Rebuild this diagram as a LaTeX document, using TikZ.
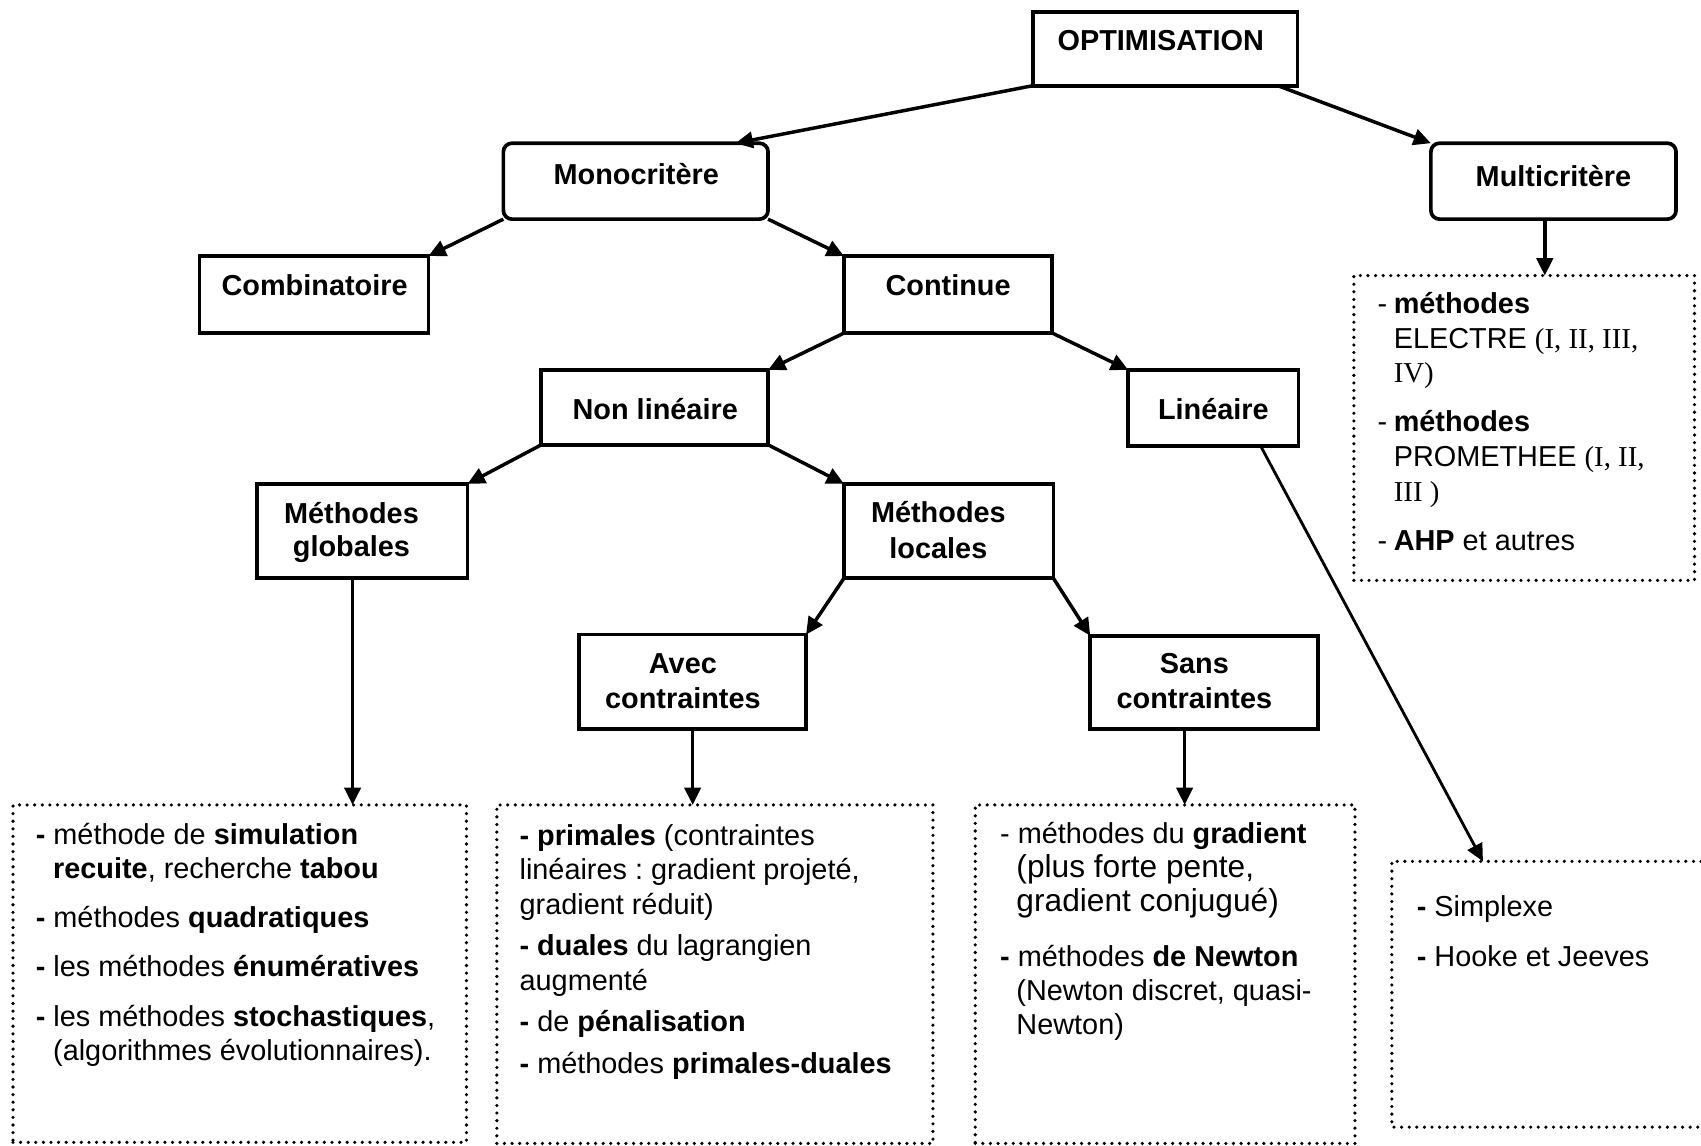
\documentclass[tikz,border=0pt]{standalone}
\usepackage{fontspec}
\setmainfont{Liberation Sans}
\newfontfamily\tnr{Liberation Serif}
\usetikzlibrary{arrows.meta,fit}
\frenchspacing

% a column of lines with a fixed baseline pitch; its baseline is the first line
\newcommand\txtcol[2]{\vtop{\baselineskip=#1\lineskiplimit=-\maxdimen\lineskip=0pt\relax#2}}
\newcommand\lline[1]{\hbox{#1}}
\newcommand\gapv[1]{\vskip#1\relax}
\newcommand\ihs[1]{\hskip#1\relax}

\begin{document}
\begin{tikzpicture}[x=0.5pt,y=-0.5pt,
  every node/.style={inner sep=0pt, outer sep=0pt, font=\fontsize{13.3}{16}\selectfont},
  box/.style={draw, line width=1.7pt, inner sep=0pt, outer sep=0pt},
  rbox/.style={box, rounded corners=4pt},
  dotbox/.style={line width=1.65pt, dash pattern=on 0pt off 3.5pt, line cap=round},
  lbl/.style={anchor=base, font=\fontsize{13.3}{16}\selectfont\bfseries},
  lst/.style={anchor=base west},
  arr/.style={line width=1.6pt, -{Triangle[length=8pt,width=7.5pt]}},
]
\useasboundingbox (0,0) rectangle (1568,1056);

% ---- solid boxes
\node[box,  fit={(952,11) (1196,79)}]    (opt)    {};
\node[rbox, fit={(1319,132) (1545,202)}] (multi)  {};
\node[rbox, fit={(464,132) (708,202)}]   (mono)   {};
\node[box,  fit={(184,236) (395,307)}]   (comb)   {};
\node[box,  fit={(778,236) (970,307)}]   (cont)   {};
\node[box,  fit={(499,341) (708,410)}]   (nonlin) {};
\node[box,  fit={(1040,341) (1197,411)}] (lin)    {};
\node[box,  fit={(237,446) (431,533)}]   (glob)   {};
\node[box,  fit={(778,446) (971,533)}]   (loc)    {};
\node[box,  fit={(534,585) (743,672)}]   (avec)   {};
\node[box,  fit={(1005,586) (1215,672)}] (sans)   {};

% ---- box labels
\node[lbl] (optA)    at (1070,46.5)  {OPTIMISATION};
\node[lbl] (multiA)  at (1432,171.5) {Multicritère};
\node[lbl] (monoA)   at (586.5,170)  {Monocritère};
\node[lbl] (combA)   at (290,272)    {Combinatoire};
\node[lbl] (contA)   at (874,272)    {Continue};
\node[lbl] (nonlinA) at (604,386.5)  {Non linéaire};
\node[lbl] (linA)    at (1118.5,386.5) {Linéaire};
\node[lbl] (globA)   at (324,482.5)  {Méthodes};
\node[lbl] (globB)   at (324,513)    {globales};
\node[lbl] (locA)    at (865,482)    {Méthodes};
\node[lbl] (locB)    at (865,514.5)  {locales};
\node[lbl] (avecA)   at (629.5,620.5) {Avec};
\node[lbl] (avecB)   at (629.5,653)  {contraintes};
\node[lbl] (sansA)   at (1101,620.5) {Sans};
\node[lbl] (sansB)   at (1101,653)   {contraintes};

% ---- dotted lists
\node[draw, dotbox, fit={(1248,254) (1562,535)}] (multiL) {};
\node[draw, dotbox, fit={(12,742) (430,1053)}]   (globL)  {};
\node[draw, dotbox, fit={(458,742) (860,1054)}]  (avecL)  {};
\node[draw, dotbox, fit={(899,742) (1249,1054)}] (sansL)  {};
\node[fit={(1283,794) (1568,1039)}] (linL) {};
\draw[dotbox] (linL.north east) -- (linL.north west) -- (linL.south west) -- (linL.south east);

\node[lst] (multiX) at (1270,289) {\txtcol{16pt}{%
  \lline{\makebox[7.4pt][l]{-}\textbf{méthodes}}
  \lline{\ihs{7.4pt}ELECTRE {\tnr(I, II, III,}}
  \lline{\ihs{7.4pt}{\tnr IV)}}
  \gapv{6.5pt}
  \lline{\makebox[7.4pt][l]{-}\textbf{méthodes}}
  \lline{\ihs{7.4pt}PROMETHEE {\tnr(I, II,}}
  \lline{\ihs{7.4pt}{\tnr III )}}
  \gapv{6.5pt}
  \lline{\makebox[7.4pt][l]{-}\textbf{AHP} et autres}}};

\node[lst] (globX) at (33,778) {\txtcol{15.75pt}{%
  \lline{\textbf{-} méthode de \textbf{simulation}}
  \lline{\ihs{8pt}\textbf{recuite}, recherche \textbf{tabou}}
  \gapv{7pt}
  \lline{\textbf{-} méthodes \textbf{quadratiques}}
  \gapv{7pt}
  \lline{\textbf{-} les méthodes \textbf{énumératives}}
  \gapv{7pt}
  \lline{\textbf{-} les méthodes \textbf{stochastiques},}
  \lline{\ihs{8pt}(algorithmes évolutionnaires).}}};

\node[lst] (avecX) at (479,779) {\txtcol{16pt}{%
  \lline{\textbf{- primales} (contraintes}
  \lline{linéaires : gradient projeté,}
  \lline{gradient réduit)}
  \gapv{3pt}
  \lline{\textbf{- duales} du lagrangien}
  \lline{augmenté}
  \gapv{3pt}
  \lline{\textbf{-} de \textbf{pénalisation}}
  \gapv{3.4pt}
  \lline{\textbf{-} méthodes \textbf{primales-duales}}}};

\node[lst] (sansX) at (922,777.5) {\txtcol{15.75pt}{%
  \lline{- méthodes du \textbf{gradient}}
  \lline{\ihs{7.5pt}{\fontsize{14.6}{16}\selectfont(plus forte pente,}}
  \lline{\ihs{7.5pt}{\fontsize{14.6}{16}\selectfont gradient conjugué)}}
  \gapv{9.5pt}
  \lline{\textbf{-} méthodes \textbf{de Newton}}
  \lline{\ihs{7.5pt}(Newton discret, quasi-}
  \lline{\ihs{7.5pt}Newton)}}};

\node[lst] (linX) at (1306,845) {\txtcol{15.75pt}{%
  \lline{\textbf{-} Simplexe}
  \gapv{7.25pt}
  \lline{\textbf{-} Hooke et Jeeves}}};

% ---- connectors
\draw[arr] (opt.south west) -- ([xshift=-15pt]mono.north east);
\draw[arr] ([xshift=-9pt]opt.south east) -- (multi.north west);
\draw[arr] (mono.south west) -- (comb.north east);
\draw[arr] (mono.south east) -- (cont.north west);
\draw[arr] (cont.south west) -- (nonlin.north east);
\draw[arr] (cont.south east) -- (lin.north west);
\draw[arr] (nonlin.south west) -- (glob.north east);
\draw[arr] (nonlin.south east) -- (loc.north west);
\draw[arr] (loc.south west) -- (avec.north east);
\draw[arr] (loc.south east) -- (sans.north west);
\draw[arr] ([xshift=-4pt]multi.south) -- ([xshift=-4pt]multi.south |- multiL.north);
\draw[arr] ([xshift=-4.5pt]glob.south) -- ([xshift=-4.5pt]glob.south |- globL.north);
\draw[arr] (avec.south) -- (avec.south |- avecL.north);
\draw[arr] ([xshift=-9pt]sans.south) -- ([xshift=-9pt]sans.south |- sansL.north);
\draw[arr, line width=1.3pt] ([xshift=-17.5pt]lin.south east) -- ([xshift=42pt]linL.north west);
\end{tikzpicture}
\end{document}
